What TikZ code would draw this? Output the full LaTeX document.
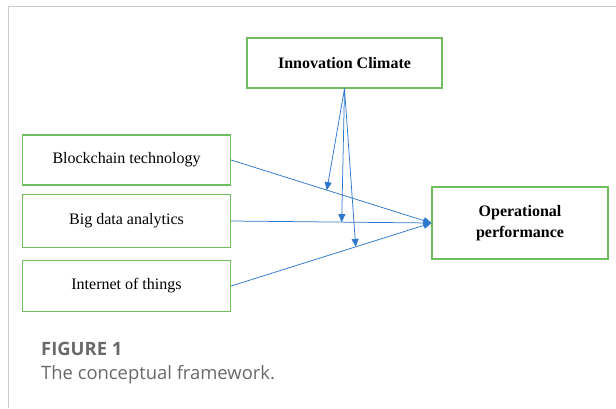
\documentclass[tikz,border=0pt]{standalone}
\usepackage{fontspec}
\setmainfont{Liberation Serif}
\newfontfamily\capfont{Open Sans}
\usetikzlibrary{arrows.meta,calc}
\definecolor{boxgreen}{RGB}{112,190,95}
\definecolor{arrblue}{RGB}{45,120,205}
\definecolor{framegray}{RGB}{205,205,205}
\definecolor{capgray}{RGB}{105,105,105}
\begin{document}
\begin{tikzpicture}[x=1pt,y=-1pt,
  box/.style={draw=boxgreen,line width=1.1pt,fill=white,inner sep=0pt,font=\fontsize{16}{19}\selectfont,align=center},
  conn/.style={draw=arrblue,line width=0.75pt,-{Triangle[length=8pt,width=7pt]}}]
\useasboundingbox (0,0) rectangle (616,408);
\draw[framegray,line width=1pt] (8,408) -- (8,6) -- (616,6);
\node[box,minimum width=195pt,minimum height=50pt,font=\fontsize{16}{19}\selectfont\bfseries] (ic) at (344.5,63) {Innovation Climate};
\node[box,minimum width=208pt,minimum height=50pt] (bc) at (126.5,160) {Blockchain technology};
\node[box,minimum width=208pt,minimum height=53pt] (bd) at (126.5,221) {Big data analytics};
\node[box,minimum width=208pt,minimum height=51pt] (iot) at (126.5,286) {Internet of things};
\node[box,minimum width=176pt,minimum height=72pt,font=\fontsize{16}{21}\selectfont\bfseries] (op) at (520,223) {Operational\\performance};
\draw[conn] (bc.east) -- (op.west);
\draw[conn] (bd.east) -- (op.west);
\draw[conn] (iot.east) -- (op.west);
\path (bc.east) -- (op.west) coordinate[pos=0.478] (m1);
\path (bd.east) -- (op.west) coordinate[pos=0.552] (m2);
\path (iot.east) -- (op.west) coordinate[pos=0.622] (m3);
\draw[conn] (ic.south) -- (m1);
\draw[conn] (ic.south) -- (m2);
\draw[conn] (ic.south) -- (m3);
\node[anchor=base west,inner sep=0pt,text=capgray,font=\capfont\fontsize{18.4}{22}\selectfont\bfseries] (fig) at (41,355) {FIGURE 1};
\node[anchor=base west,inner sep=0pt,text=capgray,font=\capfont\fontsize{18.4}{22}\selectfont] (cap) at (41,379) {The conceptual framework.};
\end{tikzpicture}
\end{document}
